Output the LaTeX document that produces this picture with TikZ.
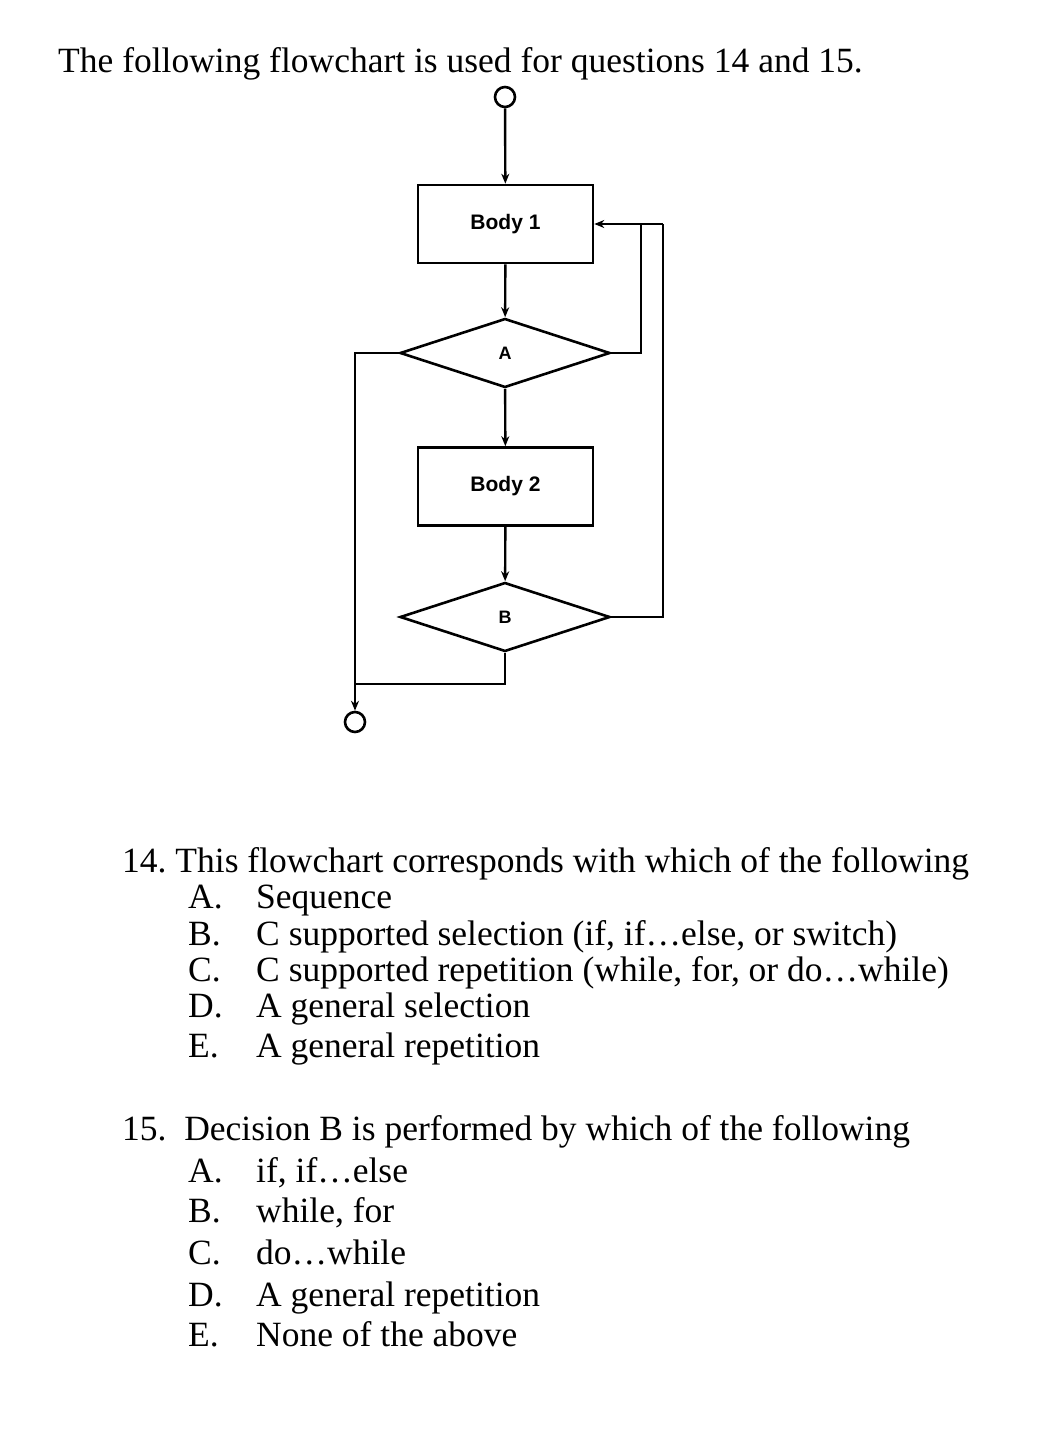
\documentclass[tikz,border=0pt]{standalone}
\usepackage{fontspec}
\setmainfont{Liberation Serif}
\newfontfamily\sansf{Liberation Sans}
\usetikzlibrary{shapes.geometric,arrows.meta}
\begin{document}
\begin{tikzpicture}[x=1pt,y=-1pt,
  ln/.style={line width=2.4pt},
  arr/.style={ln,-{Stealth[length=10pt,width=8pt]}},
  box/.style={draw,line width=2.6pt,minimum width=175pt,minimum height=78pt,font=\sansf\bfseries\fontsize{21}{24}\selectfont},
  dia/.style={draw,line width=2.6pt,diamond,aspect=3,minimum width=210pt,minimum height=69pt,inner sep=0pt,font=\sansf\bfseries\fontsize{18}{20}\selectfont},
  term/.style={draw,circle,line width=2.6pt,minimum size=20pt,inner sep=0pt},
  txt/.style={anchor=base west,font=\fontsize{35.5}{38}\selectfont,inner sep=0pt}]
\useasboundingbox (0,0) rectangle (1050,1434);
\node[txt] (title) at (58,73) {The following flowchart is used for questions 14 and 15.};
\node[term] (s) at (505,97) {};
\node[box] (b1) at (505.5,224) {Body 1};
\node[dia] (A) at (505,353) {A};
\node[box] (b2) at (505.5,486.5) {Body 2};
\node[dia] (B) at (505,617) {B};
\node[term] (e) at (355,722) {};
\coordinate (r1) at (663,617);
\coordinate (r2) at (663,224);
\coordinate (ra) at (641,353);
\coordinate (ra2) at (641,224);
\coordinate (l1) at (355,353);
\coordinate (bb) at (505,684);
\coordinate (bl) at (355,684);
\draw[arr] (s) -- (b1);
\draw[arr] (b1) -- (A);
\draw[arr] (A) -- (b2);
\draw[arr] (b2) -- (B);
\draw[ln] (B.east) -- (r1) -- (r2);
\draw[arr] (r2) -- (b1.east);
\draw[ln] (A.east) -- (ra) -- (ra2);
\draw[arr] (A.west) -- (l1) -- (e);
\draw[ln] (B.south) -- (bb) -- (bl);
\node[txt] (q14) at (122,872) {14.\ This flowchart corresponds with which of the following};
\node[txt] (a1) at (188,908) {A.};\node[txt] (a1t) at (256,908) {Sequence};
\node[txt] (a2) at (188,945) {B.};\node[txt] (a2t) at (256,945) {C supported selection (if, if\dots else, or switch)};
\node[txt] (a3) at (188,981) {C.};\node[txt] (a3t) at (256,981) {C supported repetition (while, for, or do\dots while)};
\node[txt] (a4) at (188,1017) {D.};\node[txt] (a4t) at (256,1017) {A general selection};
\node[txt] (a5) at (188,1057) {E.};\node[txt] (a5t) at (256,1057) {A general repetition};
\node[txt] (q15) at (122,1140) {15.\ \ Decision B is performed by which of the following};
\node[txt] (c1) at (188,1182) {A.};\node[txt] (c1t) at (256,1182) {if, if\dots else};
\node[txt] (c2) at (188,1222) {B.};\node[txt] (c2t) at (256,1222) {while, for};
\node[txt] (c3) at (188,1264) {C.};\node[txt] (c3t) at (256,1264) {do\dots while};
\node[txt] (c4) at (188,1306) {D.};\node[txt] (c4t) at (256,1306) {A general repetition};
\node[txt] (c5) at (188,1346) {E.};\node[txt] (c5t) at (256,1346) {None of the above};
\end{tikzpicture}
\end{document}
